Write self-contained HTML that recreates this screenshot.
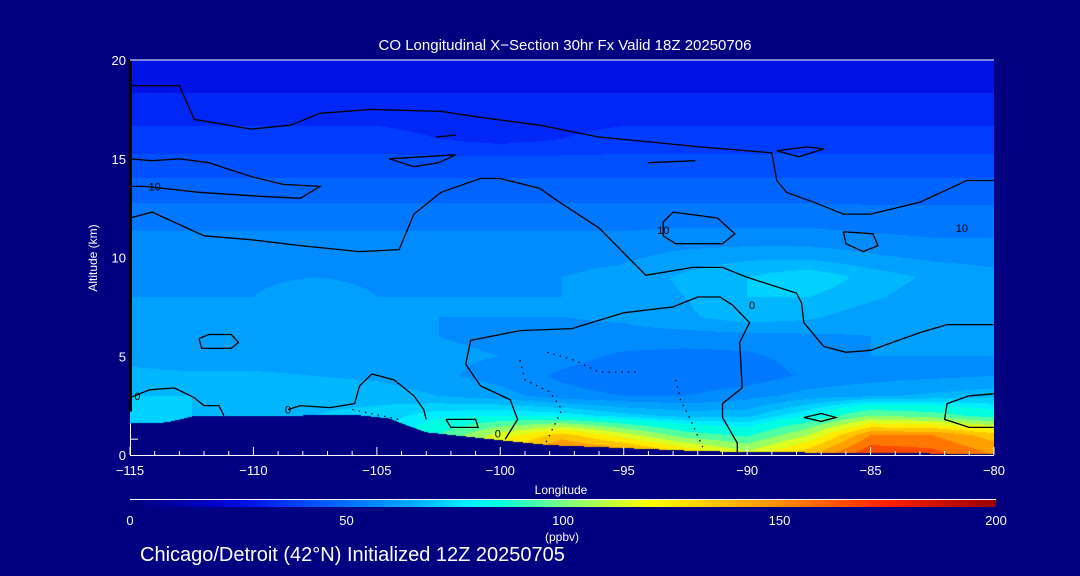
<!DOCTYPE html>
<html><head><meta charset="utf-8">
<style>
html,body{margin:0;padding:0;background:#000080;}
#wrap{position:relative;width:1080px;height:576px;background:#000080;overflow:hidden;font-family:"Liberation Sans",sans-serif;color:#fff;}
canvas{position:absolute;left:130px;top:60px;}
svg{position:absolute;left:0;top:0;}
</style></head>
<body>
<div id="wrap">
<canvas id="cv" width="864" height="395"></canvas>
<svg id="sv" width="1080" height="576">
  <text x="565" y="50" font-size="15" fill="#fff" text-anchor="middle">CO Longitudinal X−Section 30hr  Fx Valid 18Z 20250706</text>
  <text x="0" y="0" font-size="12" fill="#fff" text-anchor="middle" transform="translate(97,258) rotate(-90)">Altitude (km)</text>
  <text x="561" y="494" font-size="12" fill="#fff" text-anchor="middle">Longitude</text>
  <text x="562" y="541" font-size="12" fill="#fff" text-anchor="middle">(ppbv)</text>
  <text x="140" y="561" font-size="20" fill="#fff">Chicago/Detroit (42°N) Initialized 12Z 20250705</text>
  <g id="contours"></g>
  <g id="axes"></g>
  <g id="cbar"></g>
</svg>
</div>
<script>
// ---- data ----
const lons = [-115,-112.5,-110,-107.5,-105,-102.5,-100,-97.5,-95,-92.5,-90,-87.5,-85,-82.5,-80];
const alts = [0,1,2,3,4,5,6,7,8,9,10,11,12,13,14,15,16,17,18,19,20];
const row0  = [70,70,70,70,72,90,130,160,155,135,115,140,170,165,150];
const row1  = [70,70,70,70,72,90,115,135,115,95,88,110,150,150,135];
const row2  = [70,70,70,70,72,78,80,78,72,68,68,80,100,95,85];
const row3  = [70,70,69,68,68,65,62,57,55,55,58,62,64,66,68];
const row4  = [66,66,66,65,64,61,58,54,51,50,52,56,58,59,60];
const row5  = [64,62,62,62,62,61,60,57,54,53,54,57,60,60,60];
const row6  = [60,60,60,60,60,60,59,58,58,58,58,59,60,60,60];
const row7  = [60,60,60,60,60,60,60,60,61,64,68,66,62,60,60];
const row8  = [60,60,60,63,60,60,60,60,62,65,70,70,66,62,61];
const row9  = [59,59,59,60,59,59,59,60,62,66,70,74,68,64,62];
const row10 = [58,58,58,58,58,58,58,58,59,62,64,64,61,59,58];
const row11 = [56,56,56,56,56,56,56,56,56,57,57,57,56,55,55];
const row12 = [53,53,53,53,53,53,53,53,53,53,53,53,52,52,52];
const row13 = [49,49,49,49,49,49,49,49,49,49,49,49,49,49,49];
const row14 = [45,45,45,45,45,45,45,45,45,45,45,45,45,45,45];
const row15 = [41,41,41,41,41,41,41,41,41,41,41,41,41,41,41];
const row16 = [37,37,37,37,37,35,33,35,37,37,37,37,37,37,37];
const row17 = [34,34,34,34,34,33,32,33,34,34,34,34,34,34,34];
const row18 = [31,31,31,31,31,31,31,31,31,31,31,31,31,31,31];
const row19 = [28,28,28,28,28,28,28,28,28,28,28,28,28,28,28];
const row20 = [26,26,26,26,26,26,26,26,26,26,26,26,26,26,26];
const terrLon = [-115,-113.5,-112.3,-108,-106,-104.5,-104,-103,-100,-98,-96,-94,-92,-90,-85,-80];
const terrAlt = [1.6,1.65,2.0,2.0,2.05,1.85,1.6,1.15,0.75,0.5,0.4,0.3,0.2,0.15,0.1,0.05];
const xTicks = [-115,-110,-105,-100,-95,-90,-85,-80];
const xTickLabels = ["−115","−110","−105","−100","−95","−90","−85","−80"];
const yTicks = [0,5,10,15,20];
const cbTicks = [0,50,100,150,200];
const contourSolid = [
 [[-115,18.7],[-113.0,18.7],[-112.4,17.0],[-110.1,16.5],[-108.5,16.7],[-107.3,17.3],[-105.2,17.5],[-102.4,17.4],[-100.8,17.1],[-98.4,16.7],[-96.0,16.1],[-91.9,15.6],[-89.0,15.3],[-88.8,13.9],[-88.4,13.3],[-87.3,12.8],[-86.1,12.2],[-85.0,12.2],[-83.0,12.8],[-81.1,13.9],[-80,13.9]],
 [[-115,15.0],[-114.1,14.9],[-113.0,15.0],[-111.8,14.8],[-110.1,14.1],[-108.8,13.7],[-107.3,13.6],[-108.1,13.0],[-109.7,13.1],[-112.2,13.3],[-114.4,13.6],[-115,13.6]],
 [[-115,12.0],[-114.1,12.3],[-112.0,11.1],[-110.1,10.9],[-108.1,10.6],[-105.7,10.3],[-104.1,10.4],[-103.5,12.2],[-102.4,13.3],[-100.8,14.0],[-100.0,14.0],[-98.4,13.5],[-97.6,12.8],[-96.0,11.5],[-94.1,9.1],[-92.2,9.5],[-91.0,9.5],[-90.0,9.0],[-88.0,8.2],[-87.8,7.7],[-87.7,6.7],[-86.9,5.5],[-86.0,5.2],[-85.0,5.3],[-83.0,6.2],[-81.9,6.6],[-80,6.6]],
 [[-90.4,0.1],[-90.4,0.6],[-91.0,1.9],[-91.0,2.6],[-90.2,3.4],[-90.3,5.7],[-89.9,6.7],[-90.6,7.6],[-91.1,8.0],[-92.0,8.0],[-93.0,7.5],[-95.0,7.2],[-97.1,6.4],[-99.2,6.3],[-101.2,5.8],[-101.4,4.6],[-100.8,3.5],[-99.6,2.8],[-99.3,1.8],[-99.8,0.8]],
 [[-80,3.1],[-81.0,3.0],[-81.9,2.6],[-82.0,1.8],[-81.0,1.4],[-80,1.4]],
 [[-115,2.9],[-114.2,3.3],[-113.2,3.4],[-112.4,2.9],[-112.0,2.5],[-111.4,2.5],[-111.2,2.0]],
 [[-108.6,2.3],[-108.1,2.5],[-106.9,2.4],[-105.9,2.6],[-105.7,3.5],[-105.2,4.1],[-104.3,3.8],[-103.5,3.0],[-103.1,2.3],[-103.0,1.8]],
 [[-112.2,5.9],[-111.8,6.1],[-110.9,6.1],[-110.6,5.7],[-110.9,5.4],[-112.1,5.4],[-112.2,5.9]],
 [[-102.2,1.8],[-101.0,1.8],[-100.9,1.4],[-102.0,1.4],[-102.2,1.8]],
 [[-87.7,1.9],[-87.0,2.1],[-86.4,1.9],[-87.0,1.7],[-87.7,1.9]],
 [[-86.1,11.3],[-84.9,11.2],[-84.7,10.6],[-85.3,10.3],[-86.0,10.7],[-86.1,11.3]],
 [[-93.0,12.3],[-91.2,12.0],[-90.5,11.2],[-91.0,10.7],[-92.9,10.7],[-93.4,11.1],[-93.4,11.8],[-93.0,12.3]],
 [[-104.5,15.0],[-101.8,15.2],[-102.5,14.8],[-103.5,14.6],[-104.5,15.0]],
 [[-102.6,16.1],[-101.8,16.2],[-102.6,16.1]],
 [[-94,14.8],[-92.1,14.9],[-94,14.8]],
 [[-88.8,15.4],[-87.6,15.6],[-86.9,15.5],[-87.9,15.1],[-88.8,15.4]]
];
const contourDotted = [
 [[-99.2,4.8],[-99.0,3.8],[-98.0,3.2],[-97.5,2.3],[-98.2,0.5]],
 [[-98.1,5.2],[-97.0,4.8],[-96.0,4.2],[-94.3,4.2]],
 [[-92.9,3.8],[-92.7,2.8],[-92.3,1.8],[-91.8,0.4]],
 [[-106.0,2.3],[-104.1,1.8],[-103.9,1.3]]
];
const contourLabels = [["10",-114,13.6],["0",-89.8,7.6],["10",-81.3,11.5],["0",-114.7,3.0],["0",-108.6,2.3],["0",-100.1,1.1],["10",-93.4,11.4]];

// ---- axes ----
const X0=130,X1=994,Y0=455,Y1=60;
const xs = l => X0+(l+115)/35*(X1-X0);
const ys = a => Y0-a/20*(Y0-Y1);
const grid=[row0,row1,row2,row3,row4,row5,row6,row7,row8,row9,row10,row11,row12,row13,row14,row15,row16,row17,row18,row19,row20];

const stops=[[0,[0,0,120]],[20,[0,0,205]],[28,[0,20,230]],[35,[0,50,255]],[50,[0,110,255]],[65,[0,170,255]],[78,[0,240,255]],[85,[0,255,225]],[100,[120,255,130]],[120,[255,255,0]],[150,[255,140,0]],[175,[255,30,0]],[200,[150,0,0]]];
function cmap(v){
  v=Math.max(0,Math.min(200,v));
  for(let i=1;i<stops.length;i++){ if(v<=stops[i][0]){const a=stops[i-1],b=stops[i];const t=(v-a[0])/(b[0]-a[0]);return [0,1,2].map(k=>Math.round(a[1][k]+t*(b[1][k]-a[1][k])));}}
  return stops[stops.length-1][1];
}
function interp1(xa,ya,x){ if(x<=xa[0])return ya[0]; for(let i=1;i<xa.length;i++){if(x<=xa[i]){const t=(x-xa[i-1])/(xa[i]-xa[i-1]);return ya[i-1]+t*(ya[i]-ya[i-1]);}} return ya[ya.length-1];}
function val(lon,alt){
  const fx=(lon-lons[0])/(lons[1]-lons[0]); const fy=alt/(alts[1]-alts[0]);
  const i=Math.max(0,Math.min(lons.length-2,Math.floor(fx))), j=Math.max(0,Math.min(alts.length-2,Math.floor(fy)));
  const tx=Math.min(1,Math.max(0,fx-i)), ty=Math.min(1,Math.max(0,fy-j));
  const a=grid[j][i],b=grid[j][i+1],c=grid[j+1][i],d=grid[j+1][i+1];
  return (a*(1-tx)+b*tx)*(1-ty)+(c*(1-tx)+d*tx)*ty;
}
const cv=document.getElementById('cv'),ctx=cv.getContext('2d');
const img=ctx.createImageData(864,395);
for(let py=0;py<395;py++){
  const alt=(Y0-(py+Y1+0.5))/(Y0-Y1)*20;
  for(let px=0;px<864;px++){
    const lon=-115+(px+0.5)/864*35;
    let c;
    if(alt<interp1(terrLon,terrAlt,lon)) c=[0,0,128];
    else { let v=val(lon,alt); const step=v<80?5:10; v=Math.floor(v/step)*step+step/2; c=cmap(v);}
    const k=(py*864+px)*4; img.data[k]=c[0];img.data[k+1]=c[1];img.data[k+2]=c[2];img.data[k+3]=255;
  }
}
ctx.putImageData(img,0,0);

const NS='http://www.w3.org/2000/svg';
function mk(tag,attrs,parent){const e=document.createElementNS(NS,tag);for(const k in attrs)e.setAttribute(k,attrs[k]);parent.appendChild(e);return e;}
const cg=document.getElementById('contours');
contourSolid.forEach(line=>{
  const p=mk('polyline',{points:line.map(q=>xs(q[0]).toFixed(1)+','+ys(q[1]).toFixed(1)).join(' '),fill:'none',stroke:'#000','stroke-width':'1.3'},cg);
  
  
});
contourDotted.forEach(line=>{
  const p=mk('polyline',{points:line.map(q=>xs(q[0]).toFixed(1)+','+ys(q[1]).toFixed(1)).join(' '),fill:'none',stroke:'#000','stroke-width':'1.3','stroke-dasharray':'1.5 5'},cg);
  
  
});
contourLabels.forEach(l=>{
  const t=mk('text',{x:xs(l[1]),y:ys(l[2])+4,'font-size':'11',fill:'#000','text-anchor':'middle'},cg);
  t.textContent=l[0];
  
  
});

const ax=document.getElementById('axes');
let e=mk('rect',{x:X0-1,y:Y1,width:3,height:ys(2.2)-Y1,fill:'#000'},ax);


e=mk('line',{x1:X0,y1:Y1,x2:X1,y2:Y1,stroke:'#fff','stroke-width':'1'},ax);


e=mk('line',{x1:X0,y1:Y0+0.5,x2:X1,y2:Y0+0.5,stroke:'#fff','stroke-width':'1'},ax);


e=mk('line',{x1:X0+0.5,y1:ys(1.6),x2:X0+0.5,y2:Y0,stroke:'#fff','stroke-width':'1'},ax);


for(let l=-115;l<=-80;l++){
  const major=(l%5===0);
  e=mk('line',{x1:xs(l),y1:Y0,x2:xs(l),y2:Y0-(major?8:4),stroke:'#fff','stroke-width':'1'},ax);
  
  
}
xTicks.forEach((l,i)=>{
  const t=mk('text',{x:xs(l),y:475,'font-size':'13',fill:'#fff','text-anchor':'middle'},ax);
  t.textContent=xTickLabels[i];
  
  
});
e=mk('line',{x1:X0,y1:ys(0.8),x2:X0+8,y2:ys(0.8),stroke:'#fff','stroke-width':'1'},ax);


yTicks.forEach(a=>{
  const t=mk('text',{x:126,y:ys(a)+5,'font-size':'13',fill:'#fff','text-anchor':'end'},ax);
  t.textContent=String(a);
  
  
});

// colorbar
const cb=document.getElementById('cbar');
const defs=mk('defs',{},cb);
const lg=mk('linearGradient',{id:'cg',x1:'0',x2:'1',y1:'0',y2:'0'},defs);
stops.forEach(s=>{mk('stop',{offset:(s[0]/200),'stop-color':'rgb('+s[1].join(',')+')'},lg);});
const cbx=v=>130+v/200*866;
e=mk('line',{x1:130,y1:499.5,x2:996,y2:499.5,stroke:'#fff','stroke-width':'1'},cb);


e=mk('rect',{x:130,y:500,width:866,height:7,fill:'url(#cg)'},cb);


cbTicks.forEach(v=>{
  const t=mk('text',{x:cbx(v),y:525,'font-size':'13',fill:'#fff','text-anchor':'middle'},cb);
  t.textContent=String(v);
  
  
});
</script>
</body></html>
